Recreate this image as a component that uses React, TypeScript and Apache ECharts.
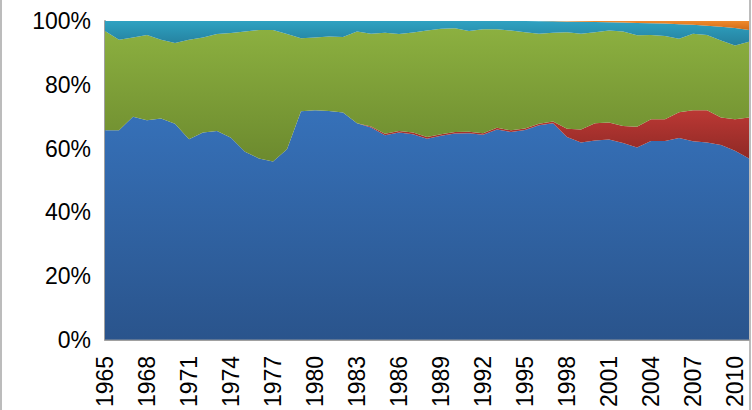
import React, { useEffect, useRef } from "react";
import * as echarts from "echarts";

const years: string[] = [];
for (let y = 1965; y <= 2011; y++) years.push(String(y));

const blue = [65.7, 65.7, 70.0, 68.9, 69.4, 67.8, 62.9, 65.0, 65.5, 63.4, 59.0, 56.9, 55.9, 59.8, 71.7, 72.0, 71.8, 71.3, 67.9, 66.6, 64.2, 65.0, 64.5, 63.1, 64.0, 64.7, 64.8, 64.3, 66.0, 65.2, 65.8, 67.3, 67.9, 63.6, 61.9, 62.5, 62.8, 61.7, 60.3, 62.4, 62.4, 63.3, 62.3, 61.9, 61.1, 59.3, 56.9];
const red = [0, 0, 0, 0, 0, 0, 0, 0, 0, 0, 0, 0, 0, 0, 0, 0, 0, 0, 0, 0.3, 0.4, 0.5, 0.5, 0.5, 0.5, 0.5, 0.5, 0.5, 0.5, 0.5, 0.5, 0.5, 0.6, 2.6, 4.1, 5.4, 5.4, 5.4, 6.5, 6.8, 6.8, 8.1, 9.7, 10.1, 8.6, 9.9, 12.8];
const green = [31.2, 28.4, 24.8, 26.7, 24.7, 25.3, 31.2, 29.8, 30.4, 32.8, 37.7, 40.3, 41.3, 36.1, 22.9, 22.8, 23.3, 23.7, 28.8, 29.1, 31.7, 30.4, 31.4, 33.4, 33.1, 32.5, 31.6, 32.6, 30.9, 31.3, 30.2, 28.2, 27.8, 30.3, 30.0, 28.6, 28.8, 29.6, 28.7, 26.4, 26.1, 23.0, 24.0, 23.6, 24.2, 23.1, 23.8];
const teal = [3.1, 5.9, 5.2, 4.4, 5.9, 6.9, 5.9, 5.2, 4.1, 3.8, 3.3, 2.8, 2.8, 4.1, 5.4, 5.2, 4.9, 5.0, 3.3, 4.0, 3.7, 4.1, 3.6, 3.0, 2.4, 2.3, 3.1, 2.6, 2.6, 3.0, 3.5, 3.9, 3.6, 3.3, 3.8, 3.2, 2.6, 2.8, 3.9, 3.7, 3.9, 4.6, 2.8, 2.9, 4.3, 5.5, 3.7];
const orange = [0, 0, 0, 0, 0, 0, 0, 0, 0, 0, 0, 0, 0, 0, 0, 0, 0, 0, 0, 0, 0, 0, 0, 0, 0, 0, 0, 0, 0, 0, 0, 0.05, 0.1, 0.15, 0.2, 0.3, 0.4, 0.5, 0.6, 0.7, 0.8, 1.0, 1.2, 1.5, 1.8, 2.2, 2.8];

const yTicks = [0, 20, 40, 60, 80, 100];

const grad = (top: string, bottom: string) =>
  new echarts.graphic.LinearGradient(0, 0, 0, 1, [
    { offset: 0, color: top },
    { offset: 1, color: bottom },
  ]);

const mk = (name: string, data: number[], top: string, bottom: string) => ({
  name,
  type: "line",
  stack: "total",
  data,
  symbol: "none",
  lineStyle: { width: 0 },
  areaStyle: { color: grad(top, bottom), opacity: 1 },
});

export default function App() {
  const ref = useRef<HTMLDivElement>(null);
  useEffect(() => {
    if (!ref.current) return;
    const chart = echarts.init(ref.current, null, { renderer: "svg" });
    const font = "'Liberation Sans', Arial, sans-serif";
    chart.setOption({
      animation: false,
      grid: { left: 105, right: 3, top: 21, bottom: 68 },
      graphic: [
        {
          type: "rect",
          shape: { x: 1, y: -10, width: 749, height: 440 },
          style: { fill: "none", stroke: "#a6a6a6", lineWidth: 1.5 },
          silent: true,
          z: -1,
        },
      ],
      xAxis: {
        type: "category",
        data: years,
        boundaryGap: false,
        axisTick: { show: false },
        axisLine: { show: true, lineStyle: { color: "#a0a0a0", width: 2 } },
        axisLabel: {
          interval: 2,
          rotate: 90,
          margin: 16,
          fontSize: 23,
          color: "#000",
          fontFamily: font,
        },
      },
      yAxis: {
        type: "value",
        min: 0,
        max: 100,
        interval: 20,
        splitLine: { show: false },
        axisTick: { show: false },
        axisLine: { show: true, lineStyle: { color: "#a0a0a0", width: 2 } },
        axisLabel: {
          formatter: (v: number) => (yTicks.includes(v) ? v + "%" : ""),
          margin: 14,
          fontSize: 23,
          color: "#000",
          fontFamily: font,
        },
      },
      series: [
        mk("Blue", blue, "#3671b9", "#2a548c"),
        mk("Red", red, "#bb3834", "#8c2824"),
        mk("Green", green, "#8cb040", "#6c8a2e"),
        mk("Teal", teal, "#2fa2c2", "#247f9d"),
        mk("Orange", orange, "#f08a2c", "#d06a18"),
      ],
    });
    return () => chart.dispose();
  }, []);
  return <div ref={ref} style={{ width: 752, height: 410, position: "absolute", left: 0, top: 0 }} />;
}
